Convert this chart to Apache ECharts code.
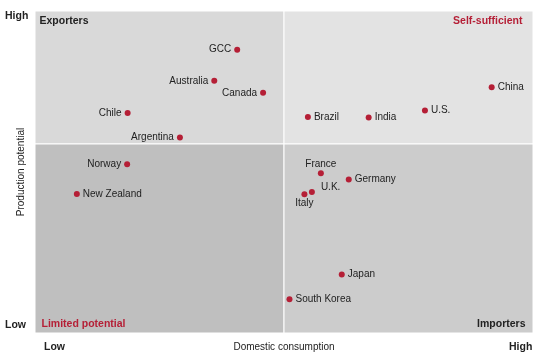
<!DOCTYPE html>
<html>
<head>
<meta charset="utf-8">
<script src="https://cdn.jsdelivr.net/npm/echarts@6/dist/echarts.min.js"></script>
<style>html,body{margin:0;padding:0;background:#fff}#c{width:553px;height:358px}</style>
</head>
<body>
<div id="c"></div>
<script>
// Data (0-100 scales, low to high)
var countries = ['GCC','Australia','Canada','Chile','Argentina','Norway','New Zealand','China','U.S.','India','Brazil','France','Germany','U.K.','Italy','Japan','South Korea'];
var consumption = [40.6, 36.0, 45.8, 18.6, 29.1, 18.5, 8.4, 91.7, 78.3, 67.0, 54.8, 57.4, 63.0, 55.6, 54.1, 61.6, 51.1];
var production  = [88.0, 78.3, 74.6, 68.3, 60.7, 52.4, 43.2, 76.3, 69.1, 66.9, 67.1, 49.6, 47.7, 43.8, 43.1, 18.2, 10.5];
var quadrantNames = ['Exporters','Self-sufficient','Limited potential','Importers'];
var axisEnds = ['Low','High'];
var xSplit = 50, ySplit = 58.7;

// Label placement (layout only)
var labelSide = {
  'GCC':'left','Australia':'left','Canada':'left','Chile':'left','Argentina':'left','Norway':'left',
  'France':'top','Italy':'bottom'
};
var labelOffset = {'U.K.':[3,-5]};

var red = '#b51f36', dark = '#222222';
var font = 'Liberation Sans, Arial, sans-serif';

var pts = countries.map(function(n,i){
  var side = labelSide[n] || 'right';
  var lab = {position: side, distance: (side==='top'||side==='bottom')?1:3};
  if (labelOffset[n]) lab.offset = labelOffset[n];
  return {name:n, value:[consumption[i], production[i]], label: lab};
});

function qLabel(pos, color, off){
  return {show:true, position:pos, color:color, fontWeight:'bold', fontSize:10.5, fontFamily:font, offset:off};
}

var chart = echarts.init(document.getElementById('c'), null, {renderer:'canvas'});
chart.setOption({
  animation:false,
  grid:{left:35, top:11, width:498, height:322, containLabel:false, outerBoundsMode:'none'},
  xAxis:{type:'value', min:0, max:100, axisLine:{show:false}, axisTick:{show:false}, axisLabel:{show:false}, splitLine:{show:false},
    name:'Domestic consumption', nameLocation:'middle', nameGap:9,
    nameTextStyle:{color:dark, fontSize:10, fontFamily:font}},
  yAxis:{type:'value', min:0, max:100, axisLine:{show:false}, axisTick:{show:false}, axisLabel:{show:false}, splitLine:{show:false},
    name:'Production potential', nameLocation:'middle', nameGap:9,
    nameTextStyle:{color:dark, fontSize:10, fontFamily:font}},
  graphic:[
    {type:'text', left:5, top:11, style:{text:axisEnds[1], fontWeight:'bold', fontSize:10.5, fontFamily:font, fill:dark}},
    {type:'text', left:5, top:320, style:{text:axisEnds[0], fontWeight:'bold', fontSize:10.5, fontFamily:font, fill:dark}},
    {type:'text', left:44, top:342, style:{text:axisEnds[0], fontWeight:'bold', fontSize:10.5, fontFamily:font, fill:dark}},
    {type:'text', left:509, top:342, style:{text:axisEnds[1], fontWeight:'bold', fontSize:10.5, fontFamily:font, fill:dark}}
  ],
  series:[{
    type:'scatter',
    symbol:'circle', symbolSize:6,
    itemStyle:{color:red, opacity:1},
    label:{show:true, formatter:'{b}', color:dark, fontSize:10, fontFamily:font},
    data:pts,
    markArea:{
      silent:true,
      itemStyle:{borderColor:'#fff', borderWidth:1, opacity:1},
      data:[
        [{xAxis:0, yAxis:ySplit, itemStyle:{color:'#d9d9d9'}, label:qLabel('insideTopLeft', dark, [0,0])}, {xAxis:xSplit, yAxis:100}],
        [{xAxis:xSplit, yAxis:ySplit, itemStyle:{color:'#e3e3e3'}, label:qLabel('insideTopRight', red, [-6,0])}, {xAxis:100, yAxis:100}],
        [{xAxis:0, yAxis:0, itemStyle:{color:'#bfbfbf'}, label:qLabel('insideBottomLeft', red, [2,1])}, {xAxis:xSplit, yAxis:ySplit}],
        [{xAxis:xSplit, yAxis:0, itemStyle:{color:'#cccccc'}, label:qLabel('insideBottomRight', dark, [-3,1])}, {xAxis:100, yAxis:ySplit}]
      ].map(function(a,i){ a[0].name = quadrantNames[i]; a[0].label.formatter = '{b}'; return a; })
    }
  }]
});
</script>
</body>
</html>
